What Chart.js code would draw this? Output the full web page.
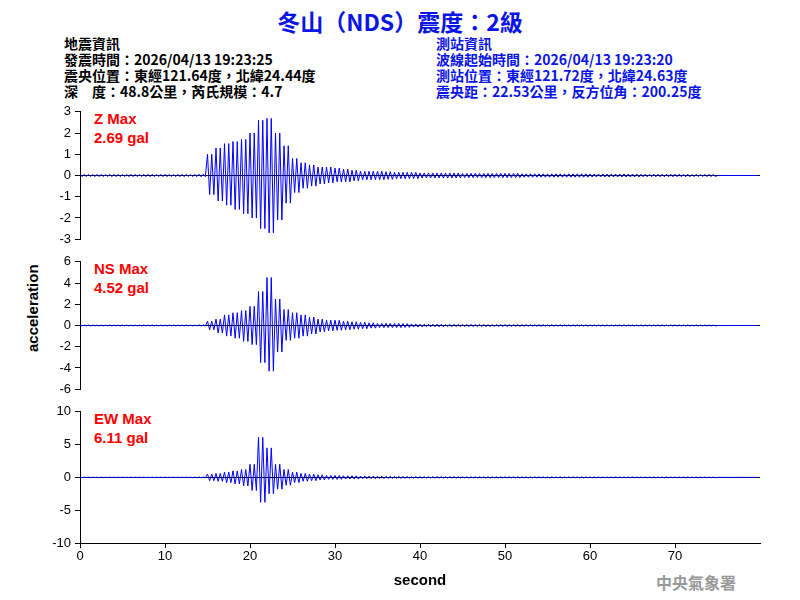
<!DOCTYPE html>
<html>
<head>
<meta charset="utf-8">
<script src="https://cdn.jsdelivr.net/npm/chart.js@4"></script>
<style>
body{margin:0;width:800px;height:600px;position:relative;background:#fff;overflow:hidden;font-family:Arial,"Liberation Sans",sans-serif}
canvas{position:absolute}
.t{position:absolute;white-space:nowrap}
.info{font-family:"Noto Sans CJK TC",serif;font-weight:bold;font-size:14px;line-height:16px}
.red{color:#f00;font-weight:bold;font-size:15px;line-height:19px}
</style>
</head>
<body>
<div class="t" style="left:0;width:800px;top:4px;text-align:center;color:#0a14e6;font-size:23px;font-weight:bold;font-family:'Noto Sans CJK TC',sans-serif">冬山（NDS）震度：2級</div>
<div class="t info" style="left:64px;top:35px;color:#000">地震資訊<br>發震時間：2026/04/13 19:23:25<br>震央位置：東經121.64度，北緯24.44度<br>深　度：48.8公里，芮氏規模：4.7</div>
<div class="t info" style="left:436px;top:35px;color:#0a14e6">測站資訊<br>波線起始時間：2026/04/13 19:23:20<br>測站位置：東經121.72度，北緯24.63度<br>震央距：22.53公里，反方位角：200.25度</div>
<div class="t" style="left:24px;font-size:15px;font-weight:bold;transform:rotate(-90deg);transform-origin:left top;top:352px">acceleration</div>
<div class="t red" style="left:94px;top:109px">Z Max<br>2.69 gal</div>
<div class="t red" style="left:94px;top:259px">NS Max<br>4.52 gal</div>
<div class="t red" style="left:94px;top:409px">EW Max<br>6.11 gal</div>
<div class="t" style="left:656px;top:570px;color:#999;font-size:16px;font-weight:bold;font-family:'Noto Sans CJK TC',serif">中央氣象署</div>
<canvas id="z" style="left:0;top:100px" width="770" height="151"></canvas>
<canvas id="ns" style="left:0;top:250px" width="770" height="151"></canvas>
<canvas id="ew" style="left:0;top:400px" width="770" height="200"></canvas>
<script>
// per-second envelope (upper and lower peaks), seconds 0..79
const zTop = [0.05,0.05,0.05,0.05,0.05,0.05,0.05,0.05,0.05,0.05,0.05,0.05,0.05,0.05,0.06,
  1.0,1.3,1.5,1.6,1.7,2.0,2.6,2.69,2.0,1.4,0.8,0.6,0.5,0.4,0.4,0.35,0.3,0.25,0.2,0.2,0.2,0.18,0.15,0.15,0.15,
  0.12,0.12,0.12,0.12,0.12,0.1,0.1,0.1,0.1,0.1,0.1,0.1,0.08,0.08,0.08,0.08,0.08,0.08,0.08,0.08,
  0.07,0.07,0.07,0.07,0.07,0.07,0.06,0.06,0.06,0.06,0.06,0.06,0.05,0.05,0.05,0,0,0,0,0];
const zBot = [-0.05,-0.05,-0.05,-0.05,-0.05,-0.05,-0.05,-0.05,-0.05,-0.05,-0.05,-0.05,-0.05,-0.05,-0.06,
  -0.9,-1.2,-1.4,-1.6,-1.8,-2.0,-2.5,-2.7,-2.1,-1.3,-0.8,-0.6,-0.5,-0.4,-0.35,-0.3,-0.3,-0.25,-0.2,-0.2,-0.2,-0.18,-0.15,-0.15,-0.15,
  -0.12,-0.12,-0.12,-0.12,-0.12,-0.1,-0.1,-0.1,-0.1,-0.1,-0.1,-0.1,-0.08,-0.08,-0.08,-0.08,-0.08,-0.08,-0.08,-0.08,
  -0.07,-0.07,-0.07,-0.07,-0.07,-0.07,-0.06,-0.06,-0.06,-0.06,-0.06,-0.06,-0.05,-0.05,-0.05,0,0,0,0,0];
const nsTop = [0.03,0.03,0.03,0.03,0.03,0.03,0.03,0.03,0.03,0.03,0.03,0.03,0.03,0.03,0.05,
  0.4,0.6,1.0,1.2,1.4,1.8,3.2,4.52,2.5,1.5,1.2,1.0,0.8,0.6,0.5,0.5,0.4,0.35,0.3,0.25,0.2,0.2,0.2,0.18,0.15,
  0.12,0.12,0.12,0.1,0.1,0.1,0.1,0.1,0.08,0.08,0.08,0.08,0.07,0.07,0.07,0.07,0.06,0.06,0.06,0.06,
  0.05,0.05,0.05,0.05,0.05,0.05,0.05,0.05,0.05,0.05,0.05,0.05,0.04,0.04,0.04,0,0,0,0,0];
const nsBot = [-0.03,-0.03,-0.03,-0.03,-0.03,-0.03,-0.03,-0.03,-0.03,-0.03,-0.03,-0.03,-0.03,-0.03,-0.05,
  -0.4,-0.7,-1.0,-1.2,-1.5,-1.8,-3.5,-4.3,-2.5,-1.4,-1.2,-1.0,-0.8,-0.6,-0.5,-0.45,-0.4,-0.35,-0.3,-0.25,-0.2,-0.2,-0.2,-0.18,-0.15,
  -0.12,-0.12,-0.12,-0.1,-0.1,-0.1,-0.1,-0.1,-0.08,-0.08,-0.08,-0.08,-0.07,-0.07,-0.07,-0.07,-0.06,-0.06,-0.06,-0.06,
  -0.05,-0.05,-0.05,-0.05,-0.05,-0.05,-0.05,-0.05,-0.05,-0.05,-0.05,-0.05,-0.04,-0.04,-0.04,0,0,0,0,0];
const ewTop = [0.03,0.03,0.03,0.03,0.03,0.03,0.03,0.03,0.03,0.03,0.03,0.03,0.03,0.03,0.05,
  0.5,0.6,0.8,1.0,1.2,2.0,6.11,4.5,2.0,1.2,0.8,0.6,0.5,0.4,0.3,0.3,0.25,0.25,0.2,0.2,0.18,0.15,0.15,0.12,0.12,
  0.1,0.1,0.1,0.1,0.1,0.08,0.08,0.08,0.08,0.08,0.07,0.07,0.07,0.07,0.07,0.06,0.06,0.06,0.06,0.06,
  0.05,0.05,0.05,0.05,0.05,0.05,0.05,0.05,0.05,0.05,0.05,0.05,0.04,0.04,0.04,0,0,0,0,0];
const ewBot = [-0.03,-0.03,-0.03,-0.03,-0.03,-0.03,-0.03,-0.03,-0.03,-0.03,-0.03,-0.03,-0.03,-0.03,-0.05,
  -0.5,-0.6,-0.8,-1.0,-1.3,-2.0,-3.8,-2.5,-1.8,-1.2,-0.8,-0.6,-0.5,-0.4,-0.3,-0.3,-0.25,-0.25,-0.2,-0.2,-0.18,-0.15,-0.15,-0.12,-0.12,
  -0.1,-0.1,-0.1,-0.1,-0.1,-0.08,-0.08,-0.08,-0.08,-0.08,-0.07,-0.07,-0.07,-0.07,-0.07,-0.06,-0.06,-0.06,-0.06,-0.06,
  -0.05,-0.05,-0.05,-0.05,-0.05,-0.05,-0.05,-0.05,-0.05,-0.05,-0.05,-0.05,-0.04,-0.04,-0.04,0,0,0,0,0];
const xTicks = [0,10,20,30,40,50,60,70];

// zigzag trace: upper and lower peaks alternate twice each second
function trace(top, bot){
  const pts = [];
  for (let i = 0; i < top.length; i++){
    pts.push({x:i, y:top[i]}, {x:i+0.25, y:bot[i]}, {x:i+0.5, y:top[i]}, {x:i+0.75, y:bot[i]});
  }
  return pts;
}

function grafico(id, top, bot, lim, step, showX){
  new Chart(document.getElementById(id), {
    type:'line',
    data:{datasets:[{data:trace(top,bot), borderColor:'#0000ff', borderWidth:1, pointRadius:0, tension:0}]},
    options:{
      responsive:false, animation:false, events:[],
      plugins:{legend:{display:false}, tooltip:{enabled:false}},
      layout:{padding:{top:0, bottom:0, right:10, left:0}},
      scales:{
        x:{type:'linear', min:0, max:80, display:showX,
          afterFit:s=>{ if (showX) s.height=57 },
          afterBuildTicks:s=>{s.ticks = xTicks.map(v=>({value:v}))},
          ticks:{color:'#000', font:{size:13, family:'Arial'}, autoSkip:false, padding:1},
          grid:{drawOnChartArea:false, tickColor:'#000', tickLength:5},
          border:{color:'#000'},
          title:{display:true, text:'second', color:'#000', font:{size:15, weight:'bold', family:'Arial'}, padding:{top:0, bottom:10}}
        },
        y:{min:-lim, max:lim,
          afterFit:s=>{s.width=80},
          ticks:{stepSize:step, color:'#000', font:{size:13, family:'Arial'}, padding:4, autoSkip:false},
          grid:{color:c=>c.tick.value===0?'#000':'rgba(0,0,0,0)', tickColor:'#000', tickLength:5},
          border:{color:'#000'}
        }
      }
    }
  });
}

grafico('z', zTop, zBot, 3, 1, false);
grafico('ns', nsTop, nsBot, 6, 2, false);
grafico('ew', ewTop, ewBot, 10, 5, true);
</script>
</body>
</html>
